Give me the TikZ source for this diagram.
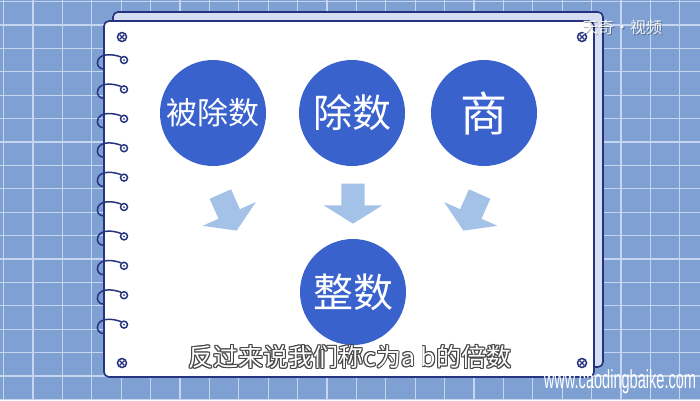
\documentclass[tikz,border=0pt]{standalone}
\usepackage{fontspec}
\setsansfont{Liberation Sans}
\newfontfamily\cjk{Noto Sans CJK SC}
\usepackage{tikz}
\usetikzlibrary{positioning, shapes.arrows, calc}

\definecolor{GridBlue}{RGB}{126,160,210}
\definecolor{GridLine}{RGB}{198,214,240}
\definecolor{PageBack}{RGB}{214,223,242}
\definecolor{InkNavy}{RGB}{38,52,128}
\definecolor{BallBlue}{RGB}{58,98,205}
\definecolor{ArrowBlue}{RGB}{164,194,232}
\definecolor{OutlineGray}{RGB}{70,70,70}

\tikzstyle{page} = [draw=InkNavy, line width=1.6pt, rounded corners=5pt]
\tikzstyle{ball} = [circle, fill=BallBlue, minimum size=106pt, inner sep=0pt, text=white]
\tikzstyle{flow} = [single arrow, fill=ArrowBlue, minimum height=40pt, minimum width=58pt, single arrow head extend=17.5pt, single arrow tip angle=116, inner xsep=0pt, inner ysep=11.5pt]
\tikzstyle{ring} = [InkNavy, line width=1.5pt]
\tikzstyle{caption} = [font=\cjk\fontsize{25}{25}\selectfont, inner sep=0pt]

\begin{document}
\begin{tikzpicture}[x=1pt, y=-1pt]

    \fill[GridBlue] (0,0) rectangle (700,400);
    \useasboundingbox (0,0) rectangle (700,400);
    \foreach \i in {0,...,23}
        \draw[GridLine, line width=1.2pt] (3.6+29.4*\i,0) -- ++(0,400);
    \foreach \i in {0,...,17}
        \draw[GridLine, line width=1.2pt] (0,1.6+23.4*\i) -- ++(700,0);

    \draw[page, fill=PageBack] (113,12) rectangle (603,367);
    \draw[page, fill=white] (104,21) rectangle (594,377);

    \foreach \i in {0,...,9} {
        \pgfmathsetmacro\ry{60+29.4*\i}
        \draw[ring] (124,\ry) circle (3.5);
        \fill[InkNavy] (124,\ry) circle (1);
        \draw[ring] (121,\ry-3) .. controls (113,\ry-6) and (101,\ry-7) .. (98,\ry)
            .. controls (96,\ry+5) and (99,\ry+9) .. (104,\ry+9);
    }

    \foreach \sx/\sy in {122/37, 582/37, 122/363, 582/363} {
        \draw[ring] (\sx,\sy) circle (4.5);
        \draw[InkNavy, line width=1.2pt] (\sx-2.4,\sy-2.4) -- (\sx+2.4,\sy+2.4)
            (\sx-2.4,\sy+2.4) -- (\sx+2.4,\sy-2.4);
    }

    \node[ball, font=\cjk\fontsize{31}{31}\selectfont] (dividend) at (213,113) {被除数};
    \node[ball, font=\cjk\fontsize{39}{39}\selectfont] (divisor) at (352,113) {除数};
    \node[ball, font=\cjk\fontsize{47}{47}\selectfont] (quotient) at (484,113) {商};
    \node[ball, font=\cjk\fontsize{40}{40}\selectfont] (integer) at (353,292) {整数};

    \node[flow, rotate=-66] (arrowleft) at (227,209) {};
    \node[flow, rotate=-90] (arrowmid) at (353,200) {};
    \node[flow, rotate=-114] (arrowright) at (473,209) {};

    \foreach \dx/\dy in {-0.9/0, 0.9/0, 0/-0.9, 0/0.9, -0.65/-0.65, 0.65/0.65, -0.65/0.65, 0.65/-0.65}
        \node[caption, text=OutlineGray] at (350+\dx,357+\dy) {反过来说我们称c为a b的倍数};
    \node[caption, text=white] (subtitle) at (350,357) {反过来说我们称c为a b的倍数};

    \node[font=\cjk\fontsize{16}{16}\selectfont, text=black, opacity=0.3] at (623,28) {天奇·视频};
    \node[font=\cjk\fontsize{16}{16}\selectfont, text=white, opacity=0.9] (logo) at (622,27) {天奇·视频};
    \node[font=\sffamily\fontsize{26}{26}\selectfont, text=white, xscale=0.56] (site) at (620,382) {www.caodingbaike.com};

\end{tikzpicture}
\end{document}
